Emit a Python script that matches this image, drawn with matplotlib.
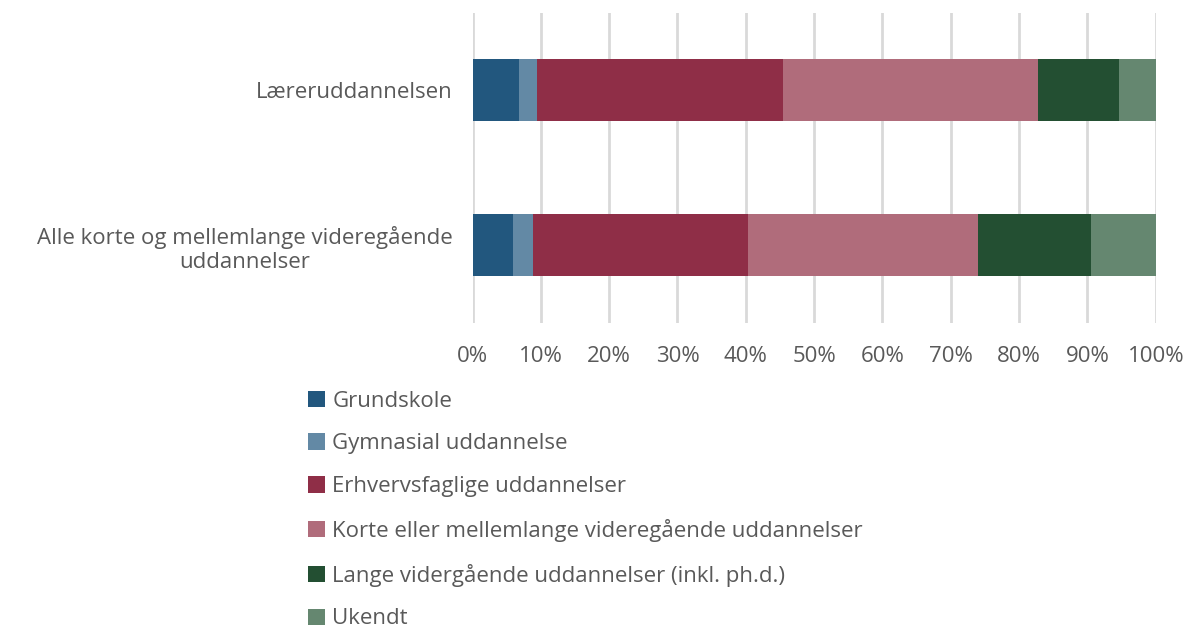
import numpy as np
import matplotlib
matplotlib.use('Agg')
import matplotlib.pyplot as plt

# --- Data (shares in %) ---
categories = ['Læreruddannelsen', 'Alle korte og mellemlange videregående\nuddannelser']
series_names = ['Grundskole', 'Gymnasial uddannelse', 'Erhvervsfaglige uddannelser',
                'Korte eller mellemlange videregående uddannelser',
                'Lange vidergående uddannelser (inkl. ph.d.)', 'Ukendt']
grundskole = [6.8, 5.9]
gymnasial = [2.6, 2.9]
erhverv = [36.0, 31.5]
korte = [37.4, 33.7]
lange = [11.8, 16.5]
ukendt = [5.4, 9.5]

series = [grundskole, gymnasial, erhverv, korte, lange, ukendt]
colors = ['#22577E', '#6389A5', '#8F2E47', '#B06C7B', '#234F32', '#658770']
text_col = '#595959'

plt.rcParams['font.family'] = ['Open Sans', 'DejaVu Sans']

fig = plt.figure(figsize=(11.86, 6.3), dpi=100)
ax = fig.add_axes([0.3984, 0.488, 0.5761, 0.492])

y = np.arange(len(categories))
left = np.zeros(len(categories))
for name, vals, col in zip(series_names, series, colors):
    ax.barh(y, vals, left=left, height=0.4, color=col, label=name, zorder=3)
    left += np.array(vals)

ax.set_xlim(0, 100)
ax.set_ylim(1.5, -0.5)
ax.set_xticks(np.arange(0, 101, 10))
ax.set_xticklabels([f'{v}%' for v in range(0, 101, 10)])
ax.set_yticks(y)
ax.set_yticklabels(categories, multialignment='center')
ax.tick_params(axis='both', length=0, labelsize=16, colors=text_col)
ax.tick_params(axis='x', pad=17)
ax.tick_params(axis='y', pad=14)
ax.grid(axis='x', color='#D9D9D9', linewidth=2, zorder=0)
for s in ax.spines.values():
    s.set_visible(False)

fig.legend(loc='upper left', bbox_to_anchor=(0.2597, 0.380), frameon=False,
           ncol=1, fontsize=16, labelcolor=text_col, handlelength=0.75,
           handleheight=0.75, handletextpad=0.35, labelspacing=0.98,
           borderaxespad=0, borderpad=0)

fig.savefig('out.png', dpi=100)
